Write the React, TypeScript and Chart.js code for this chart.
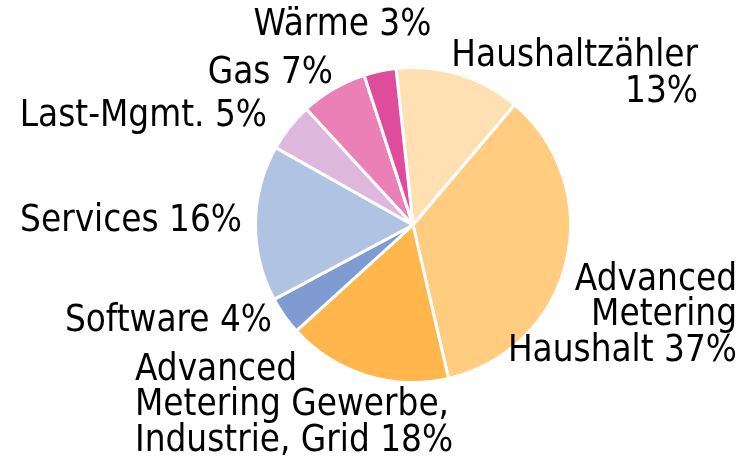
import React, { useEffect, useRef } from "react";
import { Chart, registerables } from "chart.js";

Chart.register(...registerables);

const categories = [
  "Haushaltzähler",
  "Advanced Metering Haushalt",
  "Advanced Metering Gewerbe, Industrie, Grid",
  "Software",
  "Services",
  "Last-Mgmt.",
  "Gas",
  "Wärme",
];

// slice sizes (share of the full circle, %)
const sliceValues = [12.9, 35.2, 16.9, 3.9, 16.0, 5.0, 6.8, 3.3];

// label texts as printed on the chart
const labelLines = [
  ["Haushaltzähler", "13%"],
  ["Advanced", "Metering", "Haushalt 37%"],
  ["Advanced", "Metering Gewerbe,", "Industrie, Grid 18%"],
  ["Software 4%"],
  ["Services 16%"],
  ["Last-Mgmt. 5%"],
  ["Gas 7%"],
  ["Wärme 3%"],
];

const colors = [
  "#FFE0B2",
  "#FFCC80",
  "#FFB74D",
  "#7F9BD1",
  "#B0C3E3",
  "#DEB8DC",
  "#EA80B5",
  "#DF4C9B",
];

// label placement relative to pie centre (px) and alignment
const labelLayout = [
  { dx: 285, dy: -158.8, align: "right" },
  { dx: 324, dy: 64.5, align: "right" },
  { dx: -278, dy: 154.5, align: "left" },
  { dx: -141, dy: 106.2, align: "right" },
  { dx: -171, dy: 6.2, align: "right" },
  { dx: -146, dy: -98.8, align: "right" },
  { dx: -80, dy: -142.2, align: "right" },
  { dx: -70.5, dy: -190.5, align: "center" },
];

const FONT = '36.5px "DejaVu Sans Condensed", "DejaVu Sans", sans-serif';
const LINE_H = 35.5;

const labelPlugin = {
  id: "outsideLabels",
  afterDatasetsDraw(chart: any) {
    const meta = chart.getDatasetMeta(0);
    const arc0 = meta.data[0];
    if (!arc0) return;
    const cx = arc0.x;
    const cy = arc0.y;
    const ctx = chart.ctx;
    ctx.save();
    ctx.font = FONT;
    ctx.fillStyle = "#000000";
    ctx.textBaseline = "alphabetic";
    labelLines.forEach((lines, i) => {
      const lay = labelLayout[i];
      ctx.textAlign = lay.align;
      lines.forEach((t, j) => {
        ctx.fillText(t, cx + lay.dx, cy + lay.dy + j * LINE_H);
      });
    });
    ctx.restore();
  },
};

export default function App() {
  const ref = useRef<HTMLCanvasElement | null>(null);
  useEffect(() => {
    if (!ref.current) return;
    const chart = new Chart(ref.current, {
      type: "pie",
      data: {
        labels: categories,
        datasets: [
          {
            data: sliceValues,
            backgroundColor: colors,
            borderColor: "#ffffff",
            borderWidth: 3,
          },
        ],
      },
      options: {
        responsive: true,
        maintainAspectRatio: false,
        animation: false,
        rotation: -6.2,
        layout: { padding: { left: 254, right: 175, top: 66, bottom: 75 } },
        plugins: {
          legend: { display: false },
          tooltip: { enabled: false },
        },
      },
      plugins: [labelPlugin],
    } as any);
    return () => chart.destroy();
  }, []);
  return (
    <div style={{ position: "fixed", left: 0, top: 0, width: 747, height: 459, background: "#fff" }}>
      <canvas ref={ref} />
    </div>
  );
}
